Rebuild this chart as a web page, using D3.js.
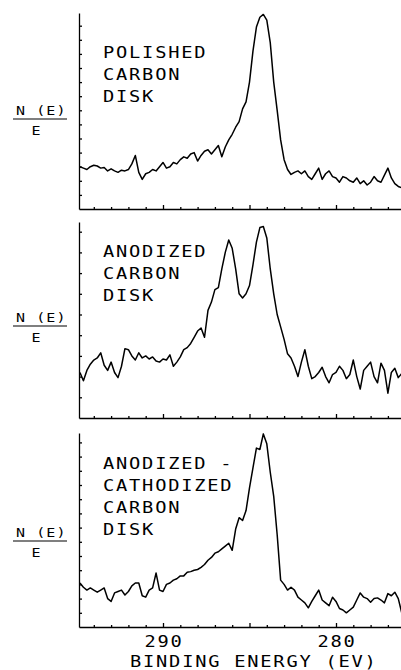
<!DOCTYPE html>
<html>
<head>
<meta charset="utf-8">
<script src="https://cdn.jsdelivr.net/npm/d3@7/dist/d3.min.js"></script>
<style>
body { margin: 0; background: #fff; }
svg { display: block; background: #fff; }
text { font-family: "DejaVu Sans Mono", monospace; fill: #000; }
</style>
</head>
<body>
<svg></svg>
<script>
// binding energy (eV) at which each spectrum value was read
let energies = [
  294.8, 294.6, 294.4, 294.2, 294.0, 293.8, 293.6, 293.4, 293.2, 293.0,
  292.8, 292.6, 292.4, 292.2, 292.0, 291.8, 291.6, 291.4, 291.2, 291.0,
  290.8, 290.6, 290.4, 290.2, 290.0, 289.8, 289.6, 289.4, 289.2, 289.0,
  288.8, 288.6, 288.4, 288.2, 288.0, 287.8, 287.6, 287.4, 287.2, 287.0,
  286.8, 286.6, 286.4, 286.2, 286.0, 285.8, 285.6, 285.4, 285.2, 285.0,
  284.8, 284.6, 284.4, 284.2, 284.0, 283.8, 283.6, 283.4, 283.2, 283.0,
  282.8, 282.6, 282.4, 282.2, 282.0, 281.8, 281.6, 281.4, 281.2, 281.0,
  280.8, 280.6, 280.4, 280.2, 280.0, 279.8, 279.6, 279.4, 279.2, 279.0,
  278.8, 278.6, 278.4, 278.2, 278.0, 277.8, 277.6, 277.4, 277.2, 277.0,
  276.8, 276.6, 276.4, 276.2
]

// N(E)/E in tick units of each panel
let polished = [
  3.0, 2.9, 2.8, 3.0, 3.1, 3.05, 2.9, 2.95, 2.7, 2.85,
  2.7, 2.6, 2.75, 2.7, 2.8, 3.2, 3.8, 2.6, 2.1, 2.5,
  2.6, 2.8, 2.7, 3.0, 3.3, 2.9, 3.0, 3.3, 3.2, 3.5,
  3.7, 3.6, 3.9, 4.0, 3.4, 3.8, 4.1, 4.2, 3.9, 4.2,
  4.5, 3.7, 4.4, 4.9, 5.3, 5.8, 6.2, 7.1, 7.6, 9.0,
  11.2, 12.9, 13.6, 13.8, 13.4, 11.8, 9.0, 7.0, 4.9, 3.5,
  2.8, 2.45, 2.6, 2.7, 2.5, 2.7, 2.3, 2.1, 2.5, 2.9,
  2.1, 2.5, 2.7, 2.3, 2.2, 1.9, 2.3, 2.2, 2.0, 1.9,
  2.2, 1.8, 2.0, 1.7, 1.9, 2.3, 2.0, 1.9, 2.4, 2.9,
  2.2, 1.8, 1.6, 1.5
]

let anodized = [
  2.2, 1.8, 2.3, 2.6, 2.8, 2.9, 3.15, 2.55, 2.3, 2.7,
  2.2, 1.95, 2.5, 3.35, 3.3, 3.0, 2.8, 3.15, 2.9, 3.0,
  2.85, 2.95, 2.75, 2.7, 2.85, 2.8, 3.05, 2.5, 2.7, 2.95,
  3.3, 3.4, 3.6, 3.9, 4.2, 4.35, 3.9, 5.2, 5.6, 6.2,
  6.3, 7.2, 8.0, 8.6, 8.2, 7.2, 6.0, 5.8, 6.0, 6.4,
  7.4, 8.5, 9.2, 9.25, 8.7, 7.2, 6.0, 5.0, 4.4, 3.8,
  3.1, 2.9, 2.5, 2.0, 2.7, 3.3, 2.5, 1.9, 2.0, 2.2,
  2.45, 2.0, 1.7, 2.1, 2.2, 2.5, 2.3, 1.9, 2.1, 2.8,
  2.0, 1.4, 2.3, 2.5, 2.7, 2.0, 1.7, 2.65, 2.3, 1.2,
  2.2, 2.4, 1.95, 2.15
]

let cathodized = [
  3.1, 2.8, 2.6, 2.75, 2.6, 2.45, 2.6, 2.75, 2.0, 1.8,
  2.4, 2.5, 2.6, 2.25, 2.5, 2.9, 3.1, 3.1, 2.2, 2.1,
  2.6, 2.75, 3.8, 2.6, 2.5, 3.0, 3.1, 3.3, 3.4, 3.6,
  3.6, 3.85, 3.9, 4.0, 4.05, 4.2, 4.4, 4.7, 4.9, 5.2,
  5.3, 5.5, 5.7, 5.9, 5.4, 6.9, 7.7, 7.5, 8.2, 9.8,
  11.2, 12.6, 12.5, 13.6, 12.9, 10.9, 9.2, 6.5, 3.3, 3.0,
  2.6, 2.8, 2.6, 2.1, 1.9, 1.7, 1.35, 1.8, 2.2, 2.6,
  1.9, 1.7, 1.5, 2.1, 1.8, 1.3, 1.2, 1.0, 1.2, 1.4,
  1.9, 2.4, 2.1, 2.0, 1.75, 2.0, 2.05, 1.9, 1.7, 2.35,
  2.2, 2.45, 2.0, 1.0
]

let panelLabels = [
  ['POLISHED', 'CARBON', 'DISK'],
  ['ANODIZED', 'CARBON', 'DISK'],
  ['ANODIZED -', 'CATHODIZED', 'CARBON', 'DISK']
]
let yTickCounts = [13, 9, 13]
let xTickLabels = [290, 280]
let xTitle = 'BINDING ENERGY (EV)'
let yLabelTop = 'N (E)'
let yLabelBottom = 'E'

let width = 401
let height = 670
let left = 79

let svg = d3.select('svg')
  .attr('width', width)
  .attr('height', height)

let xScale = d3.scaleLinear()
  .domain([290, 280])
  .range([163, 336])

let xAxisScale = d3.scaleLinear()
  .domain([xScale.invert(left), xScale.invert(width)])
  .range([left, width])

// plotter-style lettering: wide glyphs, small gaps
let plotterText = (sel, x, y, size, spacing, stretch, anchor) => {
  sel.attr('transform', 'translate(' + x + ',' + y + ') scale(' + stretch + ',1)')
    .attr('text-anchor', anchor || 'start')
    .style('font-size', size + 'px')
    .style('letter-spacing', spacing + 'px')
}

// top/bottom pixel of each panel, tick spacing, where the texts sit
let panels = [
  { values: polished,   top: 13,  bottom: 209, step: 14.1, textY: 58,  fracY: 119 },
  { values: anodized,   top: 222, bottom: 418, step: 20.7, textY: 257, fracY: 326 },
  { values: cathodized, top: 433, bottom: 627, step: 14.2, textY: 469, fracY: 541 }
]

panels.forEach((p, i) => {
  let yScale = d3.scaleLinear()
    .domain([0, (p.bottom - p.top) / p.step])
    .range([p.bottom, p.top])

  let g = svg.append('g')

  let yAxis = d3.axisRight(yScale)
    .tickValues(d3.range(1, yTickCounts[i] + 1))
    .tickSize(3)
    .tickSizeOuter(0)
    .tickFormat('')

  g.append('g')
    .attr('transform', 'translate(' + left + ',0)')
    .call(yAxis)

  let xAxis = d3.axisTop(xAxisScale)
    .tickValues(d3.range(276, 295))
    .tickSize(2)
    .tickSizeOuter(0)
    .tickFormat('')

  let xg = g.append('g')
    .attr('transform', 'translate(0,' + p.bottom + ')')
    .call(xAxis)
  xg.selectAll('.tick line')
    .filter(d => d % 5 == 0)
    .attr('y2', -4)

  g.selectAll('.domain, .tick line')
    .attr('stroke', '#000')
    .attr('stroke-width', 1.3)

  let line = d3.line()
    .x((d, j) => xScale(energies[j]))
    .y(d => yScale(d))

  g.append('path')
    .datum(p.values)
    .attr('d', line)
    .attr('fill', 'none')
    .attr('stroke', '#000')
    .attr('stroke-width', 1.5)
    .attr('stroke-linejoin', 'round')

  g.selectAll('.plabel')
    .data(panelLabels[i])
    .enter()
    .append('text')
    .each(function (d, j) {
      plotterText(d3.select(this), 103, p.textY + j * 22, 15, 1.4, 1.25)
    })
    .text(d => d)

  let nText = g.append('text')
  plotterText(nText, 16, p.fracY - 4, 12.5, 0.9, 1.2)
  nText.text(yLabelTop)

  g.append('line')
    .attr('x1', 13).attr('x2', 67)
    .attr('y1', p.fracY).attr('y2', p.fracY)
    .attr('stroke', '#000')
    .attr('stroke-width', 1.2)

  let eText = g.append('text')
  plotterText(eText, 36, p.fracY + 16, 12.5, 0, 1.2, 'middle')
  eText.text(yLabelBottom)
})

svg.selectAll('.xlabel')
  .data(xTickLabels)
  .enter()
  .append('text')
  .each(function (d) {
    plotterText(d3.select(this), xScale(d) + 1, 647, 15, 1.4, 1.25, 'middle')
  })
  .text(d => d)

let title = svg.append('text')
plotterText(title, 130, 667, 15, 1.4, 1.25)
title.text(xTitle)
</script>
</body>
</html>
